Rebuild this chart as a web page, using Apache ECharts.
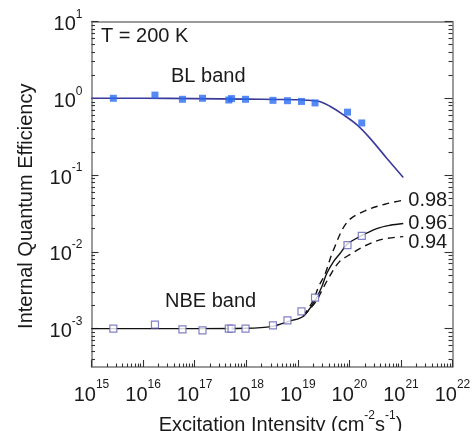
<!DOCTYPE html>
<html>
<head>
<meta charset="utf-8">
<script src="https://cdn.jsdelivr.net/npm/echarts@6/dist/echarts.min.js"></script>
<style>
html,body{margin:0;padding:0;background:#fff;}
#chart{width:473px;height:431px;}
</style>
</head>
<body>
<div id="chart"></div>
<script>
// ---- data (real units) ----
const excitation = [2.65e15, 1.7e16, 5.8e16, 1.42e17, 4.6e17, 5.2e17, 9.7e17, 3.3e18, 6.3e18, 1.18e19, 2.16e19, 9.2e19, 1.74e20];
const blIQE  = [1.0, 1.10, 0.97, 1.0, 0.95, 0.99, 0.97, 0.94, 0.93, 0.91, 0.87, 0.66, 0.477];
const nbeIQE = [1.0e-3, 1.13e-3, 0.98e-3, 0.95e-3, 1.0e-3, 1.0e-3, 1.0e-3, 1.10e-3, 1.28e-3, 1.68e-3, 2.54e-3, 1.22e-2, 1.61e-2];

const blFitX = [1e15, 1e16, 1e17, 1e18, 4e18, 1e19, 2.5e19, 4.2e19, 7.6e19, 1.39e20, 2.5e20, 5.3e20, 1.11e21];
const blFitY = [1.0, 1.0, 0.99, 0.975, 0.965, 0.955, 0.914, 0.787, 0.611, 0.453, 0.303, 0.166, 0.093];

const nbeFitX = [1e15, 1e17, 1e18, 3.2e18, 7.1e18, 1.28e19, 2.16e19, 2.91e19, 3.64e19, 4.89e19, 6.59e19, 9.12e19, 1.68e20, 3.39e20, 6.14e20, 1.11e21];
const nbeFitY = [1.0e-3, 1.0e-3, 1.01e-3, 1.07e-3, 1.26e-3, 1.45e-3, 2.34e-3, 3.49e-3, 5.21e-3, 7.40e-3, 9.51e-3, 1.26e-2, 1.61e-2, 2.01e-2, 2.22e-2, 2.34e-2];

const nbeHighX = [1.28e19, 2.0e19, 2.51e19, 3.37e19, 4.89e19, 9.12e19, 2.0e20, 4.9e20, 1.11e21];
const nbeHighY = [1.45e-3, 2.34e-3, 3.47e-3, 5.13e-3, 1.05e-2, 2.45e-2, 3.41e-2, 4.17e-2, 4.70e-2];

const nbeLowX = [1.28e19, 2.24e19, 2.95e19, 3.91e19, 6.38e19, 1.11e20, 1.92e20, 4.24e20, 1.11e21];
const nbeLowY = [1.45e-3, 2.24e-3, 3.16e-3, 4.49e-3, 7.40e-3, 9.51e-3, 1.18e-2, 1.45e-2, 1.58e-2];

const fitLabels = ['0.98', '0.96', '0.94'];
const xTickExp = [15, 16, 17, 18, 19, 20, 21, 22];
const yTickExp = [-3, -2, -1, 0, 1];
const xRange = [15, 22];
const yRange = [-3.5, 1];

// ---- helpers ----
const lg = v => Math.log10(v);
const pairs = (xs, ys) => xs.map((x, i) => [lg(x), lg(ys[i])]);
function minorTicks(lo, hi) {
  const out = [];
  for (let n = Math.floor(lo) - 1; n <= Math.ceil(hi); n++) {
    for (let k = 2; k <= 9; k++) {
      const v = n + Math.log10(k);
      if (v > lo && v < hi) out.push(v);
    }
  }
  return out;
}
const FONT = 'Liberation Sans, Arial, Helvetica, sans-serif';
const TXT = '#1a1a1a';
const AXC = '#7a7a7a';
const TKC = '#333';
const rich = {
  b: {fontSize: 20, fontFamily: FONT, color: TXT, lineHeight: 26, verticalAlign: 'bottom'},
  s: {fontSize: 12, fontFamily: FONT, color: TXT, lineHeight: 12, verticalAlign: 'top'}
};
const powLabel = v => '{b|10}{s|' + Math.round(v) + '}';

const hiddenLabel = {show: false};
const noSplit = {show: false};
function lineOf(show) { return {show: show, onZero: false, lineStyle: {color: AXC, width: 1.5}}; }
function ticks(len, values) { return {show: true, inside: true, length: len, customValues: values, lineStyle: {color: TKC, width: 1.1}}; }

const chart = echarts.init(document.getElementById('chart'), null, {renderer: 'canvas'});
chart.setOption({
  animation: false,
  backgroundColor: '#fff',
  grid: {left: 91.5, top: 21.5, width: 361, height: 345.5, containLabel: false, outerBoundsMode: 'none'},
  xAxis: [
    {
      type: 'value', min: xRange[0], max: xRange[1], position: 'bottom',
      axisLine: lineOf(true),
      axisTick: ticks(7, xTickExp),
      axisLabel: {customValues: xTickExp, formatter: powLabel, rich: rich, margin: 12},
      splitLine: noSplit,
      name: '{b|Excitation Intensity (cm}{s|-2}{b|s}{s|-1}{b|)}',
      nameLocation: 'middle', nameGap: 27,
      nameTextStyle: {rich: rich, padding: [0, 0, 0, 17]}
    },
    {
      type: 'value', min: xRange[0], max: xRange[1], position: 'bottom',
      axisLine: lineOf(false),
      axisTick: ticks(3.5, minorTicks(xRange[0], xRange[1])),
      axisLabel: hiddenLabel, splitLine: noSplit
    },
    {
      type: 'value', min: xRange[0], max: xRange[1], position: 'top',
      axisLine: lineOf(true), axisTick: {show: false}, axisLabel: hiddenLabel, splitLine: noSplit
    }
  ],
  yAxis: [
    {
      type: 'value', min: yRange[0], max: yRange[1], position: 'left',
      axisLine: lineOf(true),
      axisTick: ticks(7, yTickExp),
      axisLabel: {customValues: yTickExp, formatter: powLabel, rich: rich, margin: 9},
      splitLine: noSplit,
      name: 'Internal Quantum Efficiency',
      nameLocation: 'middle', nameGap: 52, nameRotate: 90,
      nameTextStyle: {fontSize: 20, fontFamily: FONT, color: TXT, lineHeight: 24, padding: [0, 24, 0, 0]}
    },
    {
      type: 'value', min: yRange[0], max: yRange[1], position: 'left',
      axisLine: lineOf(false),
      axisTick: ticks(3.5, minorTicks(yRange[0], yRange[1])),
      axisLabel: hiddenLabel, splitLine: noSplit
    },
    {
      type: 'value', min: yRange[0], max: yRange[1], position: 'right',
      axisLine: lineOf(true),
      axisTick: ticks(8, yTickExp),
      axisLabel: hiddenLabel, splitLine: noSplit
    },
    {
      type: 'value', min: yRange[0], max: yRange[1], position: 'right',
      axisLine: lineOf(false),
      axisTick: ticks(4, minorTicks(yRange[0], yRange[1])),
      axisLabel: hiddenLabel, splitLine: noSplit
    }
  ],
  series: [
    {
      name: 'BL fit', type: 'line', smooth: 0.35, symbol: 'none', z: 2,
      data: pairs(blFitX, blFitY),
      lineStyle: {color: '#3a3a9c', width: 1.6}
    },
    {
      name: 'BL band', type: 'scatter', symbol: 'rect', symbolSize: 7, z: 4,
      data: pairs(excitation, blIQE),
      itemStyle: {color: '#2a6cf0'}
    },
    {
      name: 'NBE fit 0.96', type: 'line', smooth: 0.35, symbol: 'none', z: 2,
      data: pairs(nbeFitX, nbeFitY),
      lineStyle: {color: '#111', width: 1.4},
      endLabel: {show: true, formatter: fitLabels[1], fontSize: 20, fontFamily: FONT, color: TXT, distance: 5}
    },
    {
      name: 'NBE fit 0.98', type: 'line', smooth: 0.35, symbol: 'none', z: 2,
      data: pairs(nbeHighX, nbeHighY),
      lineStyle: {color: '#111', width: 1.4, type: [7, 5]},
      endLabel: {show: true, formatter: fitLabels[0], fontSize: 20, fontFamily: FONT, color: TXT, distance: 5}
    },
    {
      name: 'NBE fit 0.94', type: 'line', smooth: 0.35, symbol: 'none', z: 2,
      data: pairs(nbeLowX, nbeLowY),
      lineStyle: {color: '#111', width: 1.4, type: [7, 5]},
      endLabel: {show: true, formatter: fitLabels[2], fontSize: 20, fontFamily: FONT, color: TXT, distance: 5, offset: [0, 6]}
    },
    {
      name: 'NBE band', type: 'scatter', symbol: 'rect', symbolSize: 7, z: 4,
      data: pairs(excitation, nbeIQE),
      itemStyle: {color: '#fff', borderColor: '#6262b6', borderWidth: 1.2}
    }
  ],
  graphic: [
    {type: 'text', x: 101, y: 36, style: {text: 'T = 200 K', font: '20px ' + FONT, fill: TXT, verticalAlign: 'middle'}},
    {type: 'text', x: 171, y: 76, style: {text: 'BL band', font: '20px ' + FONT, fill: TXT, verticalAlign: 'middle'}},
    {type: 'text', x: 165, y: 301, style: {text: 'NBE band', font: '20px ' + FONT, fill: TXT, verticalAlign: 'middle'}}
  ]
});
</script>
</body>
</html>
